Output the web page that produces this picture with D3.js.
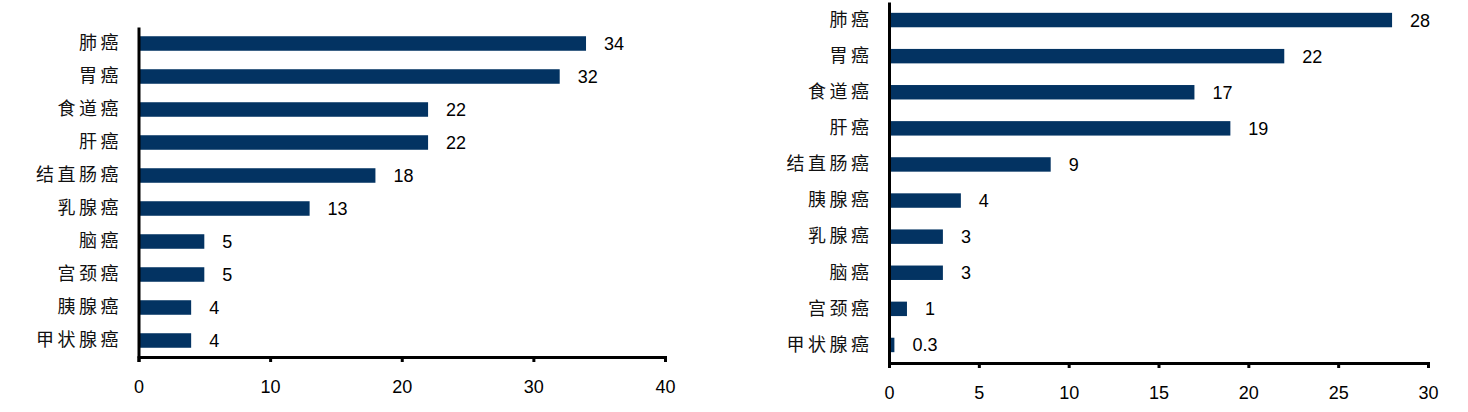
<!DOCTYPE html>
<html>
<head>
<meta charset="utf-8">
<script src="https://cdn.jsdelivr.net/npm/d3@7"></script>
<style>
  body { margin: 0; background: #fff; }
  .cat text { font-family: "Noto Sans CJK SC", sans-serif; font-size: 18px; fill: #111; }
  .num text, text.val { font-family: "Liberation Sans", Arial, sans-serif; font-size: 18px; fill: #000; }
</style>
</head>
<body>
<div id="chart"></div>
<script>
// left panel
const leftCats = ['肺癌', '胃癌', '食道癌', '肝癌', '结直肠癌', '乳腺癌', '脑癌', '宫颈癌', '胰腺癌', '甲状腺癌'];
const leftVals = [34, 32, 22, 22, 18, 13, 5, 5, 4, 4];
const leftTicks = [0, 10, 20, 30, 40];

// right panel
const rightCats = ['肺癌', '胃癌', '食道癌', '肝癌', '结直肠癌', '胰腺癌', '乳腺癌', '脑癌', '宫颈癌', '甲状腺癌'];
const rightVals = [28, 22, 17, 19, 9, 4, 3, 3, 1, 0.3];
const rightTicks = [0, 5, 10, 15, 20, 25, 30];

const svg = d3.select('#chart').append('svg')
    .attr('width', 1468)
    .attr('height', 412);

const drawPanel = (cats, vals, ticks, box) => {
    const x = d3.scaleLinear()
        .domain([0, ticks[ticks.length - 1]])
        .range([box.left, box.right]);
    const y = d3.scaleBand()
        .domain(cats)
        .range([box.top, box.bottom])
        .paddingInner(box.pad)
        .paddingOuter(box.pad / 2);

    const g = svg.append('g');

    g.selectAll('rect')
        .data(cats)
        .enter().append('rect')
        .attr('x', x(0))
        .attr('y', d => y(d))
        .attr('width', (d, i) => x(vals[i]) - x(0))
        .attr('height', y.bandwidth())
        .attr('fill', '#033362');

    g.selectAll('text.val')
        .data(cats)
        .enter().append('text')
        .attr('class', 'val')
        .attr('x', (d, i) => x(vals[i]) + 18)
        .attr('y', d => y(d) + y.bandwidth() / 2)
        .attr('dy', '0.36em')
        .text((d, i) => vals[i] < 1 ? vals[i].toFixed(1) : vals[i]);

    // x axis
    const xa = g.append('g')
        .attr('class', 'num')
        .attr('transform', `translate(0,${box.bottom})`)
        .call(d3.axisBottom(x).tickValues(ticks).tickSize(5).tickSizeOuter(5).tickPadding(18));
    xa.selectAll('path, line').attr('stroke', '#000').attr('stroke-width', 3);
    xa.attr('font-size', null).attr('font-family', null);

    // y axis
    const ya = g.append('g')
        .attr('class', 'cat')
        .attr('transform', `translate(${box.left},0)`)
        .call(d3.axisLeft(y).tickSize(0).tickSizeOuter(0).tickPadding(20));
    ya.select('.domain').attr('stroke', '#000').attr('stroke-width', 3);
    ya.selectAll('text').attr('letter-spacing', '3.5px').attr('dx', '3.5px');
    ya.attr('font-size', null).attr('font-family', null);
};

drawPanel(leftCats, leftVals, leftTicks, { left: 138.5, right: 665, top: 27, bottom: 357, pad: 0.56 });
drawPanel(rightCats, rightVals, rightTicks, { left: 889, right: 1428, top: 2, bottom: 363, pad: 0.6 });
</script>
</body>
</html>
